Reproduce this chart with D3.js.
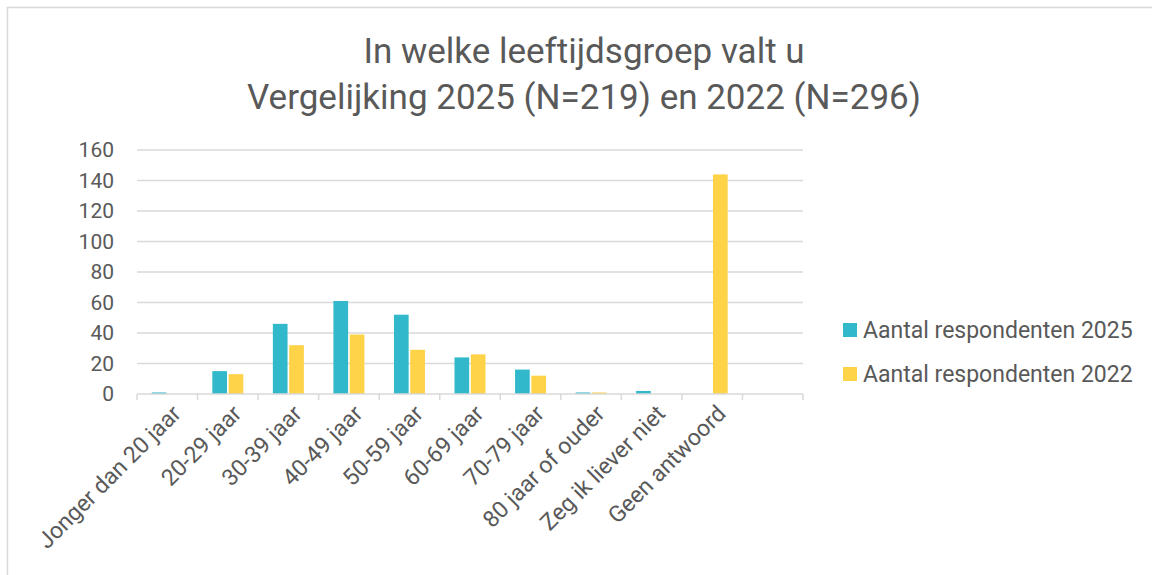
<!DOCTYPE html>
<html>
<head>
<meta charset="utf-8">
<script src="https://cdn.jsdelivr.net/npm/d3@7"></script>
<style>
  body { margin: 0; background: #fff; }
  svg { font-family: Roboto, "Open Sans", sans-serif; }
</style>
</head>
<body>
<div id="chart"></div>
<script>
const categories = ["Jonger dan 20 jaar", "20-29 jaar", "30-39 jaar", "40-49 jaar", "50-59 jaar",
  "60-69 jaar", "70-79 jaar", "80 jaar of ouder", "Zeg ik liever niet", "Geen antwoord", ""];
const seriesNames = ["Aantal respondenten 2025", "Aantal respondenten 2022"];
const values2025 = [1, 15, 46, 61, 52, 24, 16, 1, 2, 0, 0];
const values2022 = [0, 13, 32, 39, 29, 26, 12, 1, 0, 144, 0];
const yTicks = [0, 20, 40, 60, 80, 100, 120, 140, 160];
const titleLines = ["In welke leeftijdsgroep valt u", "Vergelijking 2025 (N=219) en 2022 (N=296)"];

const colors = ["#31B9CB", "#FFD347"];
const textColor = "#595959";
const gridColor = "#D9D9D9";

const W = 1152, H = 575;
const plot = { left: 137, right: 803, top: 150, bottom: 394 };

const svg = d3.select("#chart").append("svg")
  .attr("width", W)
  .attr("height", H);

// chart border
svg.append("rect")
  .attr("x", 7.5).attr("y", 7.5)
  .attr("width", W + 10).attr("height", H + 10)
  .attr("fill", "none")
  .attr("stroke", gridColor)
  .attr("stroke-width", 1.5);

// title
svg.append("text")
  .attr("text-anchor", "middle")
  .attr("fill", textColor)
  .style("font-size", "35px")
  .selectAll("tspan")
  .data(titleLines)
  .enter()
  .append("tspan")
  .attr("x", 584)
  .attr("y", (d, i) => 63 + i * 46)
  .text(d => d);

const x0 = d3.scaleBand()
  .domain(categories.map((d, i) => i))
  .range([plot.left, plot.right])
  .paddingInner(0.488)
  .paddingOuter(0.244);

const x1 = d3.scaleBand()
  .domain([0, 1])
  .range([0, x0.bandwidth()])
  .paddingInner(0.1);

const y = d3.scaleLinear().domain([0, 160]).range([plot.bottom, plot.top]);

// gridlines
svg.append("g")
  .selectAll("line")
  .data(yTicks.filter(d => d > 0))
  .enter()
  .append("line")
  .attr("x1", plot.left).attr("x2", plot.right)
  .attr("y1", d => y(d)).attr("y2", d => y(d))
  .attr("stroke", gridColor)
  .attr("stroke-width", 1.5);

// y labels
const yAxis = svg.append("g")
  .attr("transform", `translate(${plot.left},0)`)
  .call(d3.axisLeft(y).tickValues(yTicks).tickSize(0).tickPadding(23));
yAxis.select(".domain").remove();
yAxis.selectAll("text")
  .attr("fill", textColor)
  .style("font-size", "21px")
  .style("font-family", "Roboto, sans-serif");

// bars
const rows = categories.map((c, i) => ({ i, vals: [values2025[i], values2022[i]] }));
svg.append("g")
  .selectAll("g")
  .data(rows)
  .enter()
  .append("g")
  .attr("transform", d => `translate(${x0(d.i)},0)`)
  .selectAll("rect")
  .data(d => d.vals.map((v, s) => ({ s, v })))
  .enter()
  .append("rect")
  .attr("x", d => x1(d.s))
  .attr("width", x1.bandwidth())
  .attr("y", d => y(d.v))
  .attr("height", d => y(0) - y(d.v))
  .attr("fill", d => colors[d.s]);

// x axis
const step = x0.step();
const xAxis = svg.append("g")
  .attr("transform", `translate(0,${plot.bottom})`);
xAxis.append("line")
  .attr("x1", plot.left).attr("x2", plot.right)
  .attr("stroke", gridColor).attr("stroke-width", 1.5);
xAxis.selectAll(".tick")
  .data(d3.range(categories.length + 1))
  .enter()
  .append("line")
  .attr("x1", i => plot.left + i * step).attr("x2", i => plot.left + i * step)
  .attr("y1", 0).attr("y2", 6)
  .attr("stroke", gridColor).attr("stroke-width", 1.5);
xAxis.selectAll(".lbl")
  .data(categories)
  .enter()
  .append("text")
  .attr("text-anchor", "end")
  .attr("fill", textColor)
  .style("font-size", "23px")
  .attr("transform", (d, i) => `translate(${x0(i) + x0.bandwidth() / 2 + 15},${21}) rotate(-45)`)
  .text(d => d);

// legend
const legend = svg.append("g")
  .selectAll("g")
  .data(seriesNames)
  .enter()
  .append("g")
  .attr("transform", (d, i) => `translate(843,${330 + i * 44})`);
legend.append("rect")
  .attr("x", 0).attr("y", -7)
  .attr("width", 14).attr("height", 14)
  .attr("fill", (d, i) => colors[i]);
legend.append("text")
  .attr("x", 20).attr("y", 8)
  .attr("fill", textColor)
  .style("font-size", "23px")
  .text(d => d);
</script>
</body>
</html>
